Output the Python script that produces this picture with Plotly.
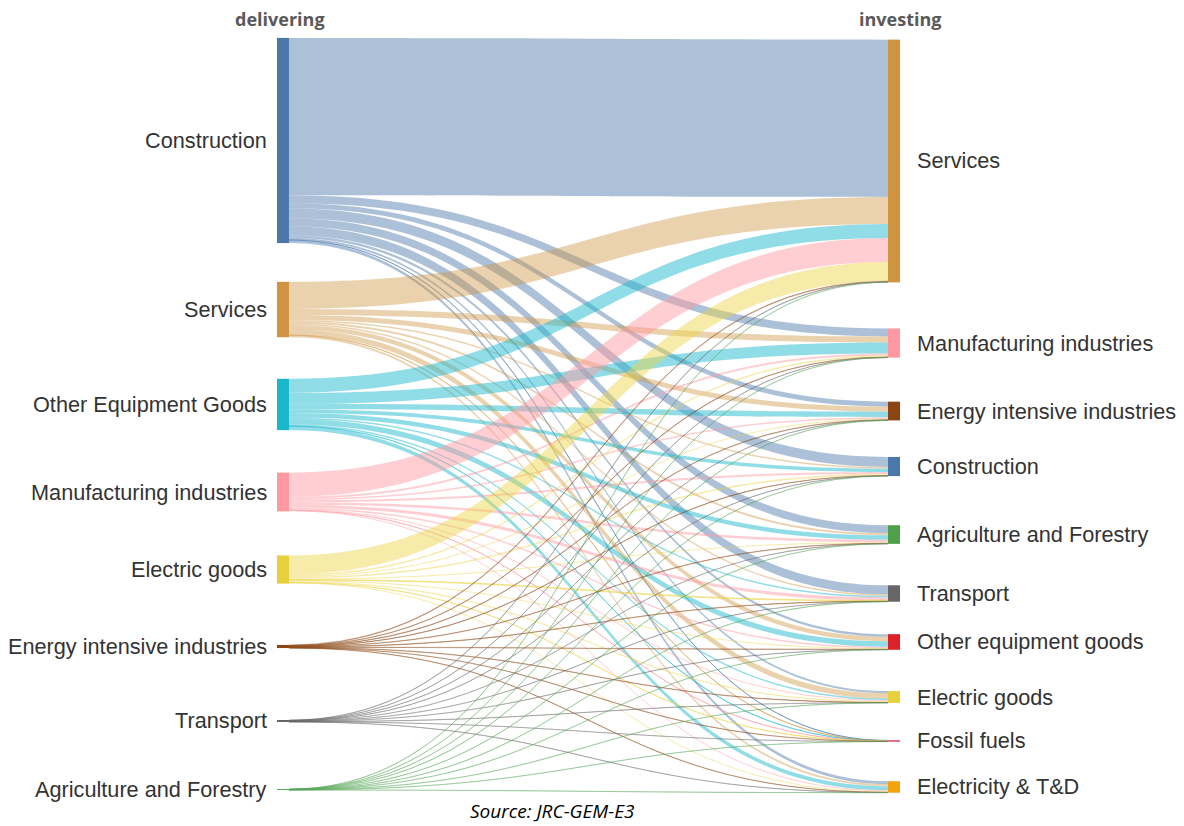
import plotly.graph_objects as go

# ---------------- data ----------------
delivering = ["Construction", "Services", "Other Equipment Goods", "Manufacturing industries",
              "Electric goods", "Energy intensive industries", "Transport", "Agriculture and Forestry"]
investing = ["Services", "Manufacturing industries", "Energy intensive industries", "Construction",
             "Agriculture and Forestry", "Transport", "Other equipment goods", "Electric goods",
             "Fossil fuels", "Electricity & T&D"]

# flows from each delivering sector to each investing sector (same order as `investing`)
from_construction  = [157, 8, 5, 10, 8, 9, 2.5, 2, 0.2, 3]
from_services      = [27, 6, 5, 1.5, 2, 1.5, 4.5, 5.5, 0.3, 2]
from_other_equip   = [14, 11, 5.5, 3.5, 4.5, 1.5, 5.5, 1.5, 0.2, 4]
from_manufacturing = [24, 2, 1.5, 2, 2.5, 3, 1.5, 1, 0.15, 1]
from_electric      = [19, 1.5, 1, 1.5, 1, 0.8, 1, 1.2, 0.15, 1]
from_energy_int    = [0.6, 0.3, 0.4, 0.3, 0.3, 0.3, 0.3, 0.3, 0.1, 0.2]
from_transport     = [0.4, 0.2, 0.2, 0.2, 0.2, 0.2, 0.2, 0.2, 0.05, 0.15]
from_agriculture   = [0.2, 0.1, 0.1, 0.1, 0.1, 0.1, 0.1, 0.1, 0.05, 0.1]

flows = [from_construction, from_services, from_other_equip, from_manufacturing,
         from_electric, from_energy_int, from_transport, from_agriculture]

# ---------------- styles / layout ----------------
left_colors = ["#4a78a8", "#cf9440", "#1ab8cc", "#ff98a0", "#e8d03c", "#8b4513", "#666666", "#5aa55a"]
right_colors = ["#cf9440", "#ff98a0", "#8b4513", "#4a78a8", "#4ea04a", "#666666", "#dc2228",
                "#e8d03c", "#dc1450", "#f5a30a"]
link_rgb = [(74, 120, 168), (207, 148, 64), (26, 184, 204), (255, 152, 160),
            (236, 212, 68), (139, 69, 19), (102, 102, 102), (90, 165, 90)]
link_alpha = [0.46, 0.42, 0.48, 0.48, 0.46, 0.36, 0.34, 0.36]

left_y = [0.1346, 0.3588, 0.4847, 0.6008, 0.7036, 0.8057, 0.9045, 0.9954]
right_y = [0.1618, 0.4032, 0.4934, 0.5670, 0.6572, 0.7354, 0.7997, 0.8727, 0.9310, 0.9920]
left_x, right_x = 0.0096, 0.9904

W, H = 1184, 826
ML, MR, MT, MB = 277, 284, 39, 33

n_left = len(delivering)
labels = delivering + investing
src, tgt, val, lcol = [], [], [], []
for i, row in enumerate(flows):
    r, g, b = link_rgb[i]
    for j, v in enumerate(row):
        src.append(i)
        tgt.append(n_left + j)
        val.append(v)
        lcol.append(f"rgba({r},{g},{b},{link_alpha[i]})")

fig = go.Figure(go.Sankey(
    arrangement="fixed",
    domain=dict(x=[0, 1], y=[0, 1]),
    node=dict(
        label=[""] * len(labels),
        customdata=labels,
        hovertemplate="%{customdata}: %{value}<extra></extra>",
        color=left_colors + right_colors,
        x=[left_x] * n_left + [right_x] * len(investing),
        y=left_y + right_y,
        pad=41,
        thickness=12,
        line=dict(width=0),
    ),
    link=dict(source=src, target=tgt, value=val, color=lcol),
))

label_font = dict(family="Arial, Liberation Sans, sans-serif", size=21.7, color="#333333")
annotations = []
for name, y in zip(delivering, left_y):
    annotations.append(dict(text=name, x=0, y=1 - y, xref="paper", yref="paper",
                            xanchor="right", yanchor="middle", xshift=-8,
                            showarrow=False, font=label_font))
for name, y in zip(investing, right_y):
    annotations.append(dict(text=name, x=1, y=1 - y, xref="paper", yref="paper",
                            xanchor="left", yanchor="middle", xshift=15,
                            showarrow=False, font=label_font))

title_font = dict(family="Open Sans, sans-serif", size=18, color="#595959")
annotations.append(dict(text="<b>delivering</b>", x=0.005, y=1.0265, xref="paper", yref="paper",
                        xanchor="center", yanchor="middle", showarrow=False, font=title_font))
annotations.append(dict(text="<b>investing</b>", x=1.0, y=1.0265, xref="paper", yref="paper",
                        xanchor="center", yanchor="middle", showarrow=False, font=title_font))
annotations.append(dict(text="<i>Source: JRC-GEM-E3</i>", x=0.441, y=-0.0245, xref="paper",
                        yref="paper", xanchor="center", yanchor="middle", showarrow=False,
                        font=dict(family="Open Sans, sans-serif", size=19, color="#000000")))

fig.update_layout(
    width=W, height=H,
    margin=dict(l=ML, r=MR, t=MT, b=MB, pad=0),
    paper_bgcolor="white", plot_bgcolor="white",
    annotations=annotations,
    showlegend=False,
)

fig.write_html("out.html", config={"displayModeBar": False},
               post_script="document.body.style.margin='0';document.body.style.overflow='hidden';")
